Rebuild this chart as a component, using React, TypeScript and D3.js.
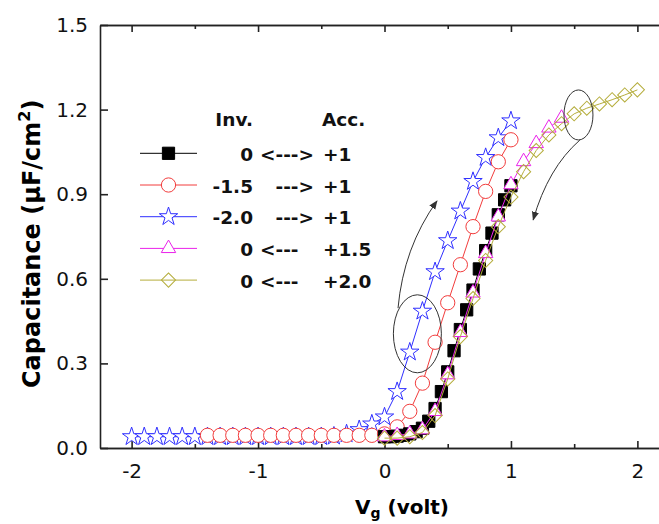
import { useEffect, useRef } from 'react';
import * as d3 from 'd3';

// ---- data ----
const squareV = [0, 0.05, 0.1, 0.15, 0.2, 0.25, 0.3, 0.35, 0.4, 0.45, 0.5, 0.55, 0.6, 0.65, 0.7, 0.75, 0.8, 0.85, 0.9, 0.95, 1.0];
const squareC = [0.04, 0.04, 0.042, 0.045, 0.05, 0.058, 0.07, 0.095, 0.14, 0.2, 0.27, 0.345, 0.42, 0.49, 0.56, 0.635, 0.7, 0.762, 0.827, 0.88, 0.93];

const circleV = [-1.4, -1.3, -1.2, -1.1, -1.0, -0.9, -0.8, -0.7, -0.6, -0.5, -0.4, -0.3, -0.2, -0.1, 0, 0.1, 0.2, 0.3, 0.4, 0.5, 0.6, 0.7, 0.8, 0.9, 1.0];
const circleC = [0.045, 0.045, 0.045, 0.045, 0.045, 0.045, 0.045, 0.045, 0.045, 0.045, 0.045, 0.045, 0.045, 0.045, 0.05, 0.075, 0.13, 0.23, 0.375, 0.515, 0.65, 0.785, 0.91, 1.015, 1.093];

const starV = [-2.0, -1.9, -1.8, -1.7, -1.6, -1.5, -1.4, -1.3, -1.2, -1.1, -1.0, -0.9, -0.8, -0.7, -0.6, -0.5, -0.4, -0.3, -0.2, -0.1, 0, 0.1, 0.2, 0.3, 0.4, 0.5, 0.6, 0.7, 0.8, 0.9, 1.0];
const starC = [0.04, 0.04, 0.04, 0.04, 0.04, 0.04, 0.04, 0.04, 0.04, 0.04, 0.04, 0.04, 0.04, 0.04, 0.04, 0.04, 0.042, 0.05, 0.065, 0.085, 0.11, 0.2, 0.34, 0.485, 0.625, 0.735, 0.84, 0.945, 1.03, 1.1, 1.16];

const triV = [0, 0.1, 0.2, 0.3, 0.4, 0.5, 0.6, 0.7, 0.8, 0.9, 1.0, 1.1, 1.2, 1.3, 1.4];
const triC = [0.04, 0.045, 0.05, 0.065, 0.13, 0.26, 0.41, 0.55, 0.69, 0.82, 0.934, 1.016, 1.08, 1.135, 1.17];

const diamV = [0, 0.1, 0.2, 0.3, 0.4, 0.5, 0.6, 0.7, 0.8, 0.9, 1.0, 1.1, 1.2, 1.3, 1.4, 1.5, 1.6, 1.7, 1.8, 1.9, 2.0];
const diamC = [0.035, 0.035, 0.04, 0.055, 0.115, 0.245, 0.395, 0.53, 0.665, 0.785, 0.89, 0.98, 1.055, 1.11, 1.15, 1.185, 1.205, 1.22, 1.235, 1.252, 1.27];

const legendInv = ['0', '-1.5', '-2.0', '0', '0'];
const legendArrow = ['<--->', '--->', '--->', '<---', '<---'];
const legendAcc = ['+1', '+1', '+1', '+1.5', '+2.0'];

const xMajor = [-2, -1, 0, 1, 2];
const xMinor = [-1.5, -0.5, 0.5, 1.5];
const yTicks = [0, 0.3, 0.6, 0.9, 1.2, 1.5];

const W = 659, H = 524;
const FONT = 'DejaVu Sans, sans-serif';

const series = [
  { key: 'star', V: starV, C: starC, color: '#2f2fff', sym: d3.symbolStar, size: 105, fill: '#fff', rot: 0 },
  { key: 'circle', V: circleV, C: circleC, color: '#f23c3c', sym: d3.symbolCircle, size: 160, fill: '#fff', rot: 0 },
  { key: 'square', V: squareV, C: squareC, color: '#000', sym: d3.symbolSquare, size: 150, fill: '#000', rot: 0 },
  { key: 'tri', V: triV, C: triC, color: '#ea22ea', sym: d3.symbolTriangle, size: 90, fill: '#fff', rot: 0 },
  { key: 'diam', V: diamV, C: diamC, color: '#b5ad3c', sym: d3.symbolSquare, size: 100, fill: 'none', rot: 45 },
];
// legend order
const legendOrder = ['square', 'circle', 'star', 'tri', 'diam'];

const Chart = () => {
  const ref = useRef<SVGSVGElement>(null);

  useEffect(() => {
    const svg = d3.select(ref.current);
    svg.selectAll('*').remove();

    const x = d3.scaleLinear().domain([-2.25, 2.25]).range([100, 669]);
    const y = d3.scaleLinear().domain([0, 1.5]).range([448, 25]);

    const defs = svg.append('defs');
    defs.append('marker')
      .attr('id', 'ah')
      .attr('viewBox', '0 0 10 10')
      .attr('refX', 9).attr('refY', 5)
      .attr('markerWidth', 9).attr('markerHeight', 9)
      .attr('markerUnits', 'userSpaceOnUse')
      .attr('orient', 'auto')
      .append('path').attr('d', 'M0,1 L10,5 L0,9 Z').attr('fill', '#333');

    // axes
    const styleAxis = (g: any) => {
      g.select('.domain').attr('stroke', '#222').attr('stroke-width', 1.6);
      g.selectAll('.tick line').attr('stroke', '#222').attr('stroke-width', 1.6);
      g.selectAll('text').attr('font-family', FONT).attr('font-size', 20).attr('fill', '#111');
    };

    svg.append('g').attr('transform', 'translate(0,448)')
      .call(d3.axisBottom(x).tickValues(xMajor).tickSize(-7).tickSizeOuter(0).tickPadding(16).tickFormat(d => String(d)))
      .call(styleAxis);
    svg.append('g').attr('transform', 'translate(0,448)')
      .call(d3.axisBottom(x).tickValues(xMinor).tickSize(-4).tickSizeOuter(0).tickFormat(() => ''))
      .call(styleAxis);
    svg.append('g').attr('transform', 'translate(0,25)')
      .call(d3.axisTop(x).tickValues(xMajor).tickSize(-7).tickSizeOuter(0).tickFormat(() => ''))
      .call(styleAxis);
    svg.append('g').attr('transform', 'translate(0,25)')
      .call(d3.axisTop(x).tickValues(xMinor).tickSize(-4).tickSizeOuter(0).tickFormat(() => ''))
      .call(styleAxis);
    svg.append('g').attr('transform', 'translate(100,0)')
      .call(d3.axisLeft(y).tickValues(yTicks).tickSize(-8).tickSizeOuter(0).tickPadding(12).tickFormat(d => (+d).toFixed(1)))
      .call(styleAxis);

    // axis titles
    const xt = svg.append('text')
      .attr('x', 402).attr('y', 514)
      .attr('text-anchor', 'middle')
      .attr('font-family', FONT).attr('font-weight', 'bold').attr('font-size', 20);
    xt.append('tspan').text('V');
    xt.append('tspan').attr('font-size', 14).attr('dy', 4).text('g');
    xt.append('tspan').attr('dy', -4).text(' (volt)');

    const yt = svg.append('text')
      .attr('transform', 'translate(40,388) rotate(-90)')
      .attr('text-anchor', 'start')
      .attr('font-family', FONT).attr('font-weight', 'bold').attr('font-size', 24);
    yt.append('tspan').text('Capacitance (\u00b5F/cm');
    yt.append('tspan').attr('font-size', 16).attr('dy', -10).text('2');
    yt.append('tspan').attr('dy', 10).text(')');

    // series
    const line = d3.line<[number, number]>().x(d => x(d[0])).y(d => y(d[1]));
    series.forEach(s => {
      const pts = s.V.map((v, i) => [v, s.C[i]] as [number, number]);
      const g = svg.append('g');
      g.append('path').attr('d', line(pts)).attr('fill', 'none').attr('stroke', s.color).attr('stroke-width', 1);
      g.selectAll('path.m').data(pts).enter().append('path')
        .attr('class', 'm')
        .attr('d', d3.symbol().type(s.sym).size(s.size)())
        .attr('transform', d => `translate(${x(d[0])},${y(d[1])}) rotate(${s.rot})`)
        .attr('fill', s.fill)
        .attr('stroke', s.color)
        .attr('stroke-width', 1);
    });

    // annotations: ellipses and curved arrows
    const ellipses = [
      { v: 0.26, c: 0.405, rx: 24, ry: 39 },
      { v: 1.534, c: 1.181, rx: 14.5, ry: 25 },
    ];
    ellipses.forEach(e => {
      svg.append('ellipse')
        .attr('cx', x(e.v)).attr('cy', y(e.c))
        .attr('rx', e.rx).attr('ry', e.ry)
        .attr('fill', 'none').attr('stroke', '#333').attr('stroke-width', 1);
    });
    const arrows = [
      [[0.107, 0.496], [0.15, 0.71], [0.415, 0.876]],
      [[1.545, 1.092], [1.293, 0.993], [1.176, 0.809]],
    ];
    arrows.forEach(a => {
      const p = d3.path();
      p.moveTo(x(a[0][0]), y(a[0][1]));
      p.quadraticCurveTo(x(a[1][0]), y(a[1][1]), x(a[2][0]), y(a[2][1]));
      svg.append('path').attr('d', p.toString())
        .attr('fill', 'none').attr('stroke', '#333').attr('stroke-width', 1)
        .attr('marker-end', 'url(#ah)');
    });

    // legend
    const lg = svg.append('g').attr('font-family', FONT).attr('font-weight', 'bold').attr('font-size', 18.5).attr('fill', '#111');
    lg.append('text').attr('x', 253).attr('y', 126).attr('text-anchor', 'end').text('Inv.');
    lg.append('text').attr('x', 322).attr('y', 126).attr('text-anchor', 'start').text('Acc.');
    legendOrder.forEach((k, i) => {
      const s = series.find(d => d.key === k)!;
      const cy = 153.3 + i * 31.7;
      lg.append('line').attr('x1', 140).attr('x2', 197).attr('y1', cy).attr('y2', cy)
        .attr('stroke', s.color).attr('stroke-width', 1);
      lg.append('path')
        .attr('d', d3.symbol().type(s.sym).size(s.size)())
        .attr('transform', `translate(168.5,${cy}) rotate(${s.rot})`)
        .attr('fill', s.fill).attr('stroke', s.color).attr('stroke-width', 1);
      const by = cy + 7.5;
      lg.append('text').attr('x', 253).attr('y', by).attr('text-anchor', 'end').text(legendInv[i]);
      const arr = legendArrow[i];
      lg.append('text')
        .attr('x', arr.startsWith('<') ? 260 : 314).attr('y', by)
        .attr('text-anchor', arr.startsWith('<') ? 'start' : 'end')
        .text(arr);
      lg.append('text').attr('x', 323).attr('y', by).attr('text-anchor', 'start').text(legendAcc[i]);
    });
  }, []);

  return (
    <svg ref={ref} width={W} height={H}
      style={{ position: 'absolute', left: 0, top: 0, background: '#fff' }} />
  );
};

export default function App() {
  return <Chart />;
}
